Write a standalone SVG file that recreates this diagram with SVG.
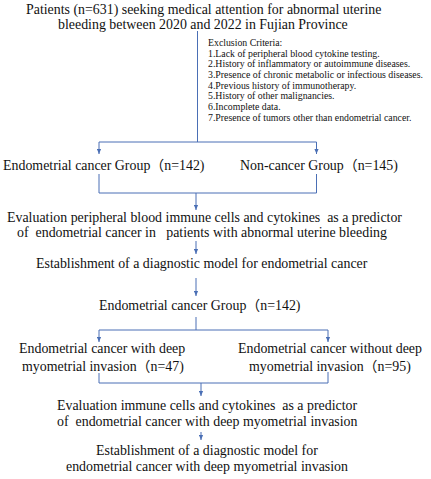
<svg xmlns="http://www.w3.org/2000/svg" width="431" height="479" viewBox="0 0 431 479">
<style>
text{font-family:"Liberation Serif","Noto Sans CJK SC",serif;fill:#111;white-space:pre}
.m{font-size:13.9px}
.s{font-size:9.8px}
.c{stroke:#4a6fb5;stroke-width:1;fill:none}
</style>
<defs>
<marker id="ah" viewBox="0 0 6 6" refX="6" refY="3" markerWidth="5" markerHeight="5" orient="auto" markerUnits="userSpaceOnUse">
<path d="M0,0.5 L6,3 L0,5.5 Z" fill="#4a6fb5"/>
</marker>
</defs>
<rect width="431" height="479" fill="#fff"/>
<g id="connectors">
<path class="c" d="M197.5,31 V142"/>
<path class="c" d="M99,142 H316.5"/>
<path class="c" d="M99,142 V154" marker-end="url(#ah)"/>
<path class="c" d="M316.5,142 V154" marker-end="url(#ah)"/>
<path class="c" d="M99,174 V193 H316.5 V174"/>
<path class="c" d="M196,193 V210" marker-end="url(#ah)"/>
<path class="c" d="M196,241 V254" marker-end="url(#ah)"/>
<path class="c" d="M196,278 V296" marker-end="url(#ah)"/>
<path class="c" d="M196,317 V330"/>
<path class="c" d="M99,330 H328"/>
<path class="c" d="M99,330 V342" marker-end="url(#ah)"/>
<path class="c" d="M328,330 V342" marker-end="url(#ah)"/>
<path class="c" d="M99,373 V383 H328 V372"/>
<path class="c" d="M201,383 V396" marker-end="url(#ah)"/>
<path class="c" d="M201,432 V440" marker-end="url(#ah)"/>
</g>
<g id="n-patients">
<text class="m" x="26" y="14">Patients (n=631) seeking medical attention for abnormal uterine</text>
<text class="m" x="58" y="29">bleeding between 2020 and 2022 in Fujian Province</text>
</g>
<g id="n-exclusion">
<text class="s" x="208" y="45.5">Exclusion Criteria:</text>
<text class="s" x="208" y="56.5">1.Lack of peripheral blood cytokine testing.</text>
<text class="s" x="208" y="67">2.History of inflammatory or autoimmune diseases.</text>
<text class="s" x="208" y="77.5" textLength="215" lengthAdjust="spacingAndGlyphs">3.Presence of chronic metabolic or infectious diseases.</text>
<text class="s" x="208" y="88.5">4.Previous history of immunotherapy.</text>
<text class="s" x="208" y="99">5.History of other malignancies.</text>
<text class="s" x="208" y="110">6.Incomplete data.</text>
<text class="s" x="208" y="120.5">7.Presence of tumors other than endometrial cancer.</text>
</g>
<g id="n-ec-group">
<text class="m" x="3" y="170">Endometrial cancer Group（n=142)</text>
</g>
<g id="n-non-cancer">
<text class="m" x="240" y="170">Non-cancer Group（n=145)</text>
</g>
<g id="n-eval1">
<text class="m" x="7" y="222">Evaluation peripheral blood immune cells and cytokines  as a predictor</text>
<text class="m" x="17" y="237">of  endometrial cancer in   patients with abnormal uterine bleeding</text>
</g>
<g id="n-model1">
<text class="m" x="36" y="268">Establishment of a diagnostic model for endometrial cancer</text>
</g>
<g id="n-ec-group2">
<text class="m" x="99" y="310">Endometrial cancer Group（n=142)</text>
</g>
<g id="n-deep">
<text class="m" x="19" y="353">Endometrial cancer with deep</text>
<text class="m" x="22" y="371">myometrial invasion（n=47)</text>
</g>
<g id="n-nodeep">
<text class="m" x="238" y="353">Endometrial cancer without deep</text>
<text class="m" x="249" y="371">myometrial invasion（n=95)</text>
</g>
<g id="n-eval2">
<text class="m" x="57" y="410">Evaluation immune cells and cytokines  as a predictor</text>
<text class="m" x="57" y="426">of  endometrial cancer with deep myometrial invasion</text>
</g>
<g id="n-model2">
<text class="m" x="96" y="455">Establishment of a diagnostic model for</text>
<text class="m" x="66" y="471">endometrial cancer with deep myometrial invasion</text>
</g>
</svg>
